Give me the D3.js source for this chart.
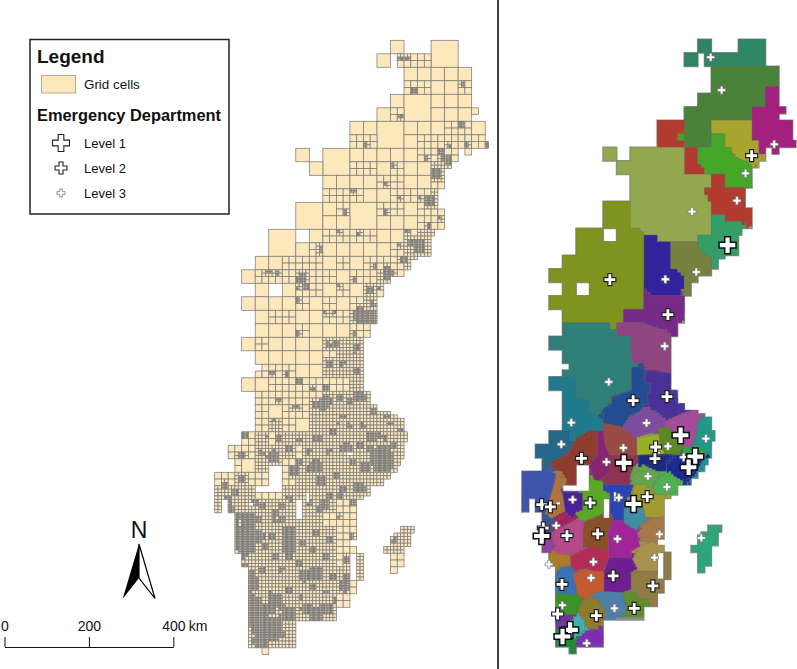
<!DOCTYPE html>
<html>
<head>
<meta charset="utf-8">
<script src="https://cdn.jsdelivr.net/npm/d3@7/dist/d3.min.js"></script>
<style>
html, body { margin: 0; padding: 0; background: #fff; }
svg { display: block; }
text { font-family: "Liberation Sans", Arial, sans-serif; fill: #111; }
</style>
</head>
<body>
<div id="map"></div>
<script>
// grid cells, one string per row, first char is column -2
// . none, 0 whole, 1 split in 4, 2 split in 16, 3 split in 64, B 2x2 block, x covered by block
// l r t b v part of a cell, L R same with finer split
const gridRows = [
  ".............0..Bx...",
  "............0r11xx...",
  "..............00000..",
  "..............11001..",
  ".............0Bx000..",
  "............01xx000t.",
  "..........00Bx000100.",
  "..........11xx011111L",
  "......0.Bx00000111r..",
  ".......0xx1101002L...",
  "........000001001....",
  "........111001112....",
  "......Bx01Bx01001....",
  "......xx00xx00001....",
  "....Bx.0110100122....",
  "....xx0100000122.....",
  "...001110101112......",
  "..011121101121.......",
  "...0.01101021........",
  "..0000101002.........",
  "...011001113.........",
  "...00010001l.........",
  "..010000122..........",
  "...00000122..........",
  "...11000222..........",
  "..001111012..........",
  "...11111222l.........",
  "...1001222222L.......",
  "...12102222222.......",
  "..121222222222L......",
  ".0122212222232.......",
  ".r022122222232.......",
  "1011112222222........",
  "21211222222L.........",
  "L222222221l..........",
  ".R32222211l..........",
  ".R32232121l..22......",
  ".R32232221l.R2L......",
  "..22222221R..1.......",
  "..R2222322R..t.......",
  "..R2222222l..........",
  "..R2322221...........",
  "..R323232............",
  "..R232...............",
  "..R322...............",
  "...v................."
];

// lakes and gaps in the grid, col0 row0 col1 row1
const gridHoles = [
  [2, 31.55, 3.2, 33], [0.9, 33, 3.1, 33.45], [4.1, 34.1, 4.5, 35.4], [4.65, 33.5, 5, 34.2],
  [7.8, 30.45, 8.25, 30.75], [8.05, 38, 8.5, 39.7], [8, 37, 8.6, 37.45], [0.5, 34.3, 0.85, 34.6],
  [1, 24, 1.5, 24.5], [17.5, 5, 18, 5.5], [18, 7, 18.5, 7.5], [18.25, 7.5, 18.5, 8], [16.5, 8.5, 17, 9],
  [15, 9.5, 15.5, 10], [14.5, 11, 15, 12.5], [14.25, 14, 15, 14.5], [14, 14.5, 15, 15], [12.5, 16.25, 13, 17],
  [11.75, 17, 12, 17.5], [11, 17.5, 12, 18], [10.5, 18, 11, 19], [10, 27, 11, 27.4], [11, 27, 11.6, 27.7],
  [12.25, 29, 12.5, 29.75], [12, 29.75, 12.5, 30], [11.75, 31, 12, 32], [11.5, 31.5, 12, 32], [10.6, 32.6, 11, 33],
  [9, 33.75, 9.5, 34], [12.75, 36, 13, 36.5], [12.5, 36.5, 13, 37], [11, 36, 11.75, 36.5], [11, 36.5, 11.25, 36.75],
  [10.5, 37, 11, 37.4], [12, 37.5, 12.5, 38], [11.5, 39, 12, 39.5]
];

// places where the cells get very small: col, row, radius
const clusters = [
  [11.8,1.4,.12],[12.2,1.4,.12],[12.73,3.67,.17],[16.4,3.18,.12],[11.75,5.64,.14],[16.26,6.2,.12],[17.17,5.84,.12],
  [9.11,7.8,.14],[15.4,7.86,.12],[16.6,7.73,.14],[18.1,7.73,.1],[14.66,8.23,.2],[15.2,8.8,.28],[14.4,9.95,.3],
  [13.67,8.8,.12],[11.13,9.29,.14],[10.6,10.6,.14],[8.2,11.1,.14],[11.58,11.63,.12],[13.92,11.92,.32],[13.13,11.63,.12],
  [7.64,12.78,.14],[10.6,12.73,.14],[14.65,13.15,.12],[13.92,13.77,.12],[7.14,14.14,.12],[8.62,14.38,.12],[12.2,14.14,.14],
  [13.18,15.25,.32],[11.58,15.12,.12],[12.44,15.05,.14],[5.86,15.5,.12],[11.95,16.28,.12],[9.85,16.8,.14],[10.84,17.27,.3],
  [2.04,17.1,.12],[2.66,17.3,.1],[4.43,17.7,.26],[4.8,18.2,.16],[4.14,18.33,.12],[4.14,19.3,.12],[7.14,18.15,.12],
  [8.37,17.83,.14],[9.43,18.57,.24],[10.1,18.33,.12],[9.68,19.58,.14],[6.16,20.1,.12],[6.9,20.1,.12],[8.74,20.4,.42],
  [8.37,21.77,.14],[4.11,21.77,.14],[7.02,22.5,.14],[6.4,22.5,.14],[8.5,22.75,.16],[6.77,22.6,.14],[8.37,22.95,.16],
  [7.39,23.94,.2],[8.5,24.43,.18],[6.53,24.06,.16],[3.37,24.67,.14],[2.2,24.67,.12],[4.26,25.3,.18],[2.83,26.6,.14],
  [5.17,25.86,.18],[6.23,26.77,.3],[5.9,27.26,.22],[3.94,27.14,.16],[8,26.65,.24],[8.74,26.4,.3],[7.5,27.88,.18],
  [7.14,28.37,.16],[2.34,28.12,.14],[1.85,29.35,.14],[.25,29.23,.16],[2.34,30.83,.34],[0,30.83,.2],[4.3,29.6,.16],
  [4.2,31.2,.22],[5.5,31.52,.36],[5.05,31.7,.24],[7.76,30.2,.3],[8.74,30.1,.2],[9.68,29.35,.34],[10.84,27.88,.16],
  [11.7,28.86,.16],[10.34,30.95,.7],[10.71,31.3,.42],[9.98,30.83,.3],[10.2,31.6,.26],[10.96,30.7,.22],[8.74,33.17,.3],
  [7.27,33.66,.24],[6.16,34.4,.26],[5.05,34.28,.22],[3.57,36.5,.34],[3.47,36.87,.3],[1.23,36.74,.36],[1.6,34.5,.22],
  [-.49,36.74,.62],[-.62,36.37,.42],[-.37,37.24,.36],[-.86,34.77,.28],[-1.1,34.03,.22],[.86,37.24,.2],[2.59,38.2,.24],
  [5.3,37.73,.2],[4.68,39.7,.3],[7.7,38.47,.18],[7.64,40.44,.32],[5.54,39.45,.16],[.86,40.3,.34],[.12,38.96,.22],
  [3.57,40.7,.2],[2.1,40.93,.16],[6.9,41.42,.16],[6.28,42.16,.3],[4.8,42.16,.3],[3.32,42.65,.34],[.62,42.53,.4],
  [1.35,43.64,.42],[1.6,44,.5],[2.6,43.1,.26],[11.33,37.1,.2],[8.13,36.74,.18],[7.14,35.39,.14],[8.25,34.28,.14],
  [1.2,41.6,.3],[1.6,42.2,.3],[1.9,43,.26],[4.4,41.2,.16],[3,34.5,.18],[2.4,35.6,.18],[3.3,37.7,.18],[6.5,37,.14],
  [.6,41.5,.3],[1,42,.35],[1.4,42.7,.35],[1,43.2,.35],[1.8,43.4,.3],[2.2,44,.3],[1.2,44.5,.3],[2.6,44.3,.2],[3,43.9,.2],
  [2.2,42.2,.22],[3,41.9,.2],[3.7,42.4,.22],[5.4,42.3,.25],[5.9,42,.2],[.4,40.8,.25],[.6,39.6,.25],[-.1,38.2,.25],[.2,37.8,.3],
  [-.6,35.5,.3],[-.9,35.9,.3],[-.2,35.2,.22],[.5,35.9,.2],[1.2,35.4,.22],[.4,36.6,.25],[1.7,37.5,.2],[2.2,36.7,.2],[3.1,35.5,.18],
  [2.5,34.9,.2],[.9,34.2,.22],[3.6,33.9,.2],[5.7,34.8,.18],[6.6,33.8,.2],[7.4,33.2,.2],[5.5,36.6,.2],[6.2,38.2,.16],[4.6,37.2,.2],
  [3.5,38.2,.18],[2.9,39.2,.18],[4.2,38.8,.2],[6.8,39.7,.18],[1.6,39.3,.2],[2.3,41.2,.18],[5.2,40.6,.22],[6.2,40.9,.16],[7.7,39.7,.22],
  [6.7,28.9,.2],[5.6,29.5,.25],[6.4,30.4,.22],[4.9,30.4,.2],[3.4,30.2,.2],[2.8,29.6,.2],[1.4,30.6,.2],[3.8,31.9,.25],[5.9,32.6,.25],
  [7,32.2,.22],[8.3,31.3,.22],[9.2,31.6,.25],[9.6,30.2,.22],[8.9,28.6,.2],[7.9,28.6,.2],[10.6,29.4,.18],[11.3,29.9,.2],[11,28.4,.16],
  [9.8,27.6,.2],[7.3,26.4,.22],[5.5,26.9,.2],[6.3,25.7,.16],[-1.3,33,.2],[-.4,33.5,.22],[0,32.5,.16]
];

const regionColors = [
  "#2f8663", "#4a8239", "#a3207f", "#a7a52d", "#b23a2f", "#b23a2f", "#45a628", "#93a74f",
  "#b23a2f", "#339e66", "#32239b", "#76813f", "#7f941f", "#752a87", "#8e4580", "#2e7f78",
  "#1f7a8c", "#24678a", "#8f3b2d", "#88256f", "#9a4a45", "#8f3352", "#234d90", "#4a3196",
  "#7e4b9f", "#a54b9a", "#1e9a86", "#199a9a", "#99b026", "#5a8a21", "#2ea24e", "#1d2b88",
  "#1b2a90", "#64a54c", "#4fb251", "#3d55ad", "#b0733a", "#4b2199", "#5aa824", "#2b44b5",
  "#a19a2e", "#3e8da3", "#a5794c", "#8a4e2a", "#a1249b", "#a8904e", "#8f7b43", "#6f1e8f",
  "#b22c55", "#c45a30", "#3a71b2", "#a97c29", "#b8498a", "#a81d5a", "#3a5296", "#963ba5",
  "#3a9228", "#8d7c2d", "#4d7fa9", "#5e8f2c", "#7a2eb0", "#3fb0aa", "#70329e", "#1e8a3a",
  "#2fa67a"
];

// outline of each region in grid units, "col,row col,row ..."
const regionRings = [
  ["11,0 12,0 12,1 14,1 14,0 16,0 16,2 11.5,2 11.5,1 11,1", "10,1 11,1 11,2 10,2"],
  ["12,2 17,2 17,3.5 16,3.5 16,5 15,5 15,6 12,6 12,8 10,8 10,5 11,5 11,4 12,4"],
  ["16,3.5 17,3.5 17,5 17.5,5 17.5,5.5 17.25,5.5 17.25,6 18,6 18,7.5 18.25,7.5 18.25,8 17,8 17,8.5 16.5,8.5 16.5,8 16,8 16,8.5 15.5,8.5 15.5,7.5 15,7.5 15,5 16,5"],
  ["12,6 15,6 15,7.5 15.5,7.5 15.5,8.5 15.75,8.5 15.75,9 15.5,9.25 15.25,9.5 14.75,9.25 14.5,9 14,8.75 13.5,8.25 13,8 13,7 12,7"],
  ["8,6 10,6 10,8 8,8"],
  ["10,8 11,8 11,9 11.25,9 11.25,9.5 11.5,9.5 11.5,10 10,10"],
  ["12,7 13,7 13,8 13.5,8 13.5,8.5 14,9 14.5,9 15,9.5 15,11 13,11 13,10 11.5,10 11.5,9.5 11,9 11,8 12,8", "9.5,7 10,7 10,7.5 9.5,7.5"],
  ["6,8 10,8 10,10 12,10 12,11 11.5,11 11.5,11.5 11.75,11.5 11.75,12 12,12 12,14.5 11,14.5 11,15 8,15 8,14.5 7,14.5 6.5,14 6,14 6,10 5,10 5,9 6,9", "4,8 5,8 5,9 4,9"],
  ["12,10 13,10 13,11 14.5,11 14.5,12.5 15,12.5 15,13.5 14.5,13.5 14.5,13.75 14.25,13.75 14.25,13.5 13,13.5 13,13 12,13 12,12 11.75,12 11.75,11.5 11.5,11.5 11.5,11 12,11"],
  ["12,13 13,13 13,13.5 14.25,13.5 14.25,14 14,14.5 14,16 13,16.25 12.5,16.25 12.5,17 12,17 12,16.25 11.5,16 11,15.5 11,14.5 12,14.5"],
  ["7,14.5 8,14.5 8,15 9,15 9,17 9.5,17 10,17.5 10,18.5 9.75,18.5 9.75,19 7.5,19 7,18.5 7,19 6.5,19 6.5,18.5 7,18.5"],
  ["9,15 11,15 11,15.5 11.5,16 12,16.25 12,17 11.75,17.5 11,17.5 11,18 10.5,18 10.5,19 9.75,19 10,18.5 10,17.5 9.5,17 9,17"],
  ["4,12 6,12 6,14 6.5,14 7,14.5 7,20 5.5,20 5.5,21 5,21 5,21.5 4.5,21.5 4.5,21 1,21 1,20 0,20 0,19 1,19 1,18 0,18 0,17 1,17 1,16 2,16 2,14 4,14", "4,14 5,14 5,15 4,15", "2,18 3,18 3,19 2,19"],
  ["7,18.5 7.5,19 9.75,19 9.75,19.5 10,19.75 10,20.5 9.5,20.5 9.5,22 9,22 8.5,21.5 7,21 5.5,21 5.5,20 7,20"],
  ["5,21 7,21 7,21.5 8.5,21.5 9,22 9,24.75 8,24.5 7.2,24.5 7,24 6.1,24 6,22 5,22"],
  ["1,21 4.5,21 4.5,21.5 5,21.5 5,22 6,22 6.1,24 6.6,24 6.6,24.25 6.1,24.4 6.1,26 4.6,26.5 4.6,27 4.1,27.5 3.6,28 3,27.5 3,26.7 2,26.5 2,25 1,25 1,24.5 1.5,24.5 1.5,24 1,24 1,23 0,23 0,22 1,22"],
  ["0,25 2,25 2,26.5 3,26.7 3,27.5 3.6,28 4,28.3 4,29 3,29 2.5,29.3 2,29.7 1.5,30 1.5,29 1,29 1,26 0,26"],
  ["0,29 1.5,29 1.5,29.7 2,29.7 1.7,30.2 1.3,30.8 .2,31.3 0,32 -.4,32 -.4,31 -1,31 -1,30 0,30"],
  ["3,29 3.5,29 3.6,30.7 3,31.5 2,31.5 2,33 1.6,33 1,32 .1,31.6 1.3,30.8 2,29.7 3,29.4"],
  ["3.6,29 4.1,29 4.2,30.2 4.6,30.8 5,30.8 5,31.5 4.6,32 4.5,32.5 3.8,32.7 3.4,32.9 3.3,32.4 3,31.5 3.2,31.2 3.6,30.7"],
  ["4,28.4 5.5,28.7 5.5,28.9 6.5,29.5 6.55,30.8 4.5,30.8 4.1,29.7"],
  ["4.5,30.8 6.6,30.8 6.6,31.4 6.25,31.8 6,32.4 6,33 3.9,33 3.9,32.5 4.5,32"],
  ["6.1,24.25 6.75,24.25 7.1,24.55 7.1,25.4 7.5,25.5 7.5,26 7.3,26.2 7.35,27 7,27.2 6.75,27.6 6,28 5.5,28.7 4,28.4 4,27.3 4.65,27 4.65,26.5 6.1,26"],
  ["7.1,24.55 9.05,24.75 9,26 9.2,26.5 10,26.5 10,27 10.6,27 10.6,27.5 10,27.7 8.6,28.3 7.7,27.5 7.35,27 7.3,26.2 7.5,26 7.5,25.5 7.1,25.4"],
  ["7.7,27.5 8.6,28.2 8.5,29.2 7.6,29.2 6.5,29.5 5.5,28.7 6.75,27.6"],
  ["8.6,28.3 9.95,28 10.8,27.5 11.5,27.8 11,28.4 10.9,29.4 10.6,30.2 10,30.2 9,28.8 8.5,29"],
  ["11.55,27.8 12.05,28.2 12.3,29 12.2,29.7 12,30.4 11.55,31 11.4,30.2 10.6,30.2 10.9,29.4 11,28.4"],
  ["11.4,31 11.85,31.1 11.8,31.5 11.3,32 10.9,32.5 10.3,33 10.2,32.8 10.8,32.2 11.1,31.6"],
  ["6.5,29.5 7.6,29.3 8.2,29.2 8.2,29.8 8.6,30.7 6.5,30.8"],
  ["8.1,28.8 8.85,28.8 9.1,29.4 9.95,30.2 9.7,30.8 8.6,30.7 8.2,29.8"],
  ["9.95,30.2 11.4,30.2 11.55,31 10.2,30.7 9.7,30.8"],
  ["6.6,30.8 9.35,30.8 8.7,31.4 8.7,32 7.85,32 6.6,31.6"],
  ["9.35,30.8 9.7,30.8 10.2,30.7 11.55,31 10.95,31.8 10.15,32.8 9.45,32.4 8.7,32 8.7,31.4"],
  ["6.85,31.5 7.85,32 8.2,32.3 7.7,33 7.6,33.5 6.85,33.25 6.1,32.9 6.1,32.3"],
  ["8.2,32.3 8.85,32 9.55,32.9 9.55,33.5 8.7,33.75 7.85,33.75 7.7,33"],
  ["-.9,31.5 0,32 .5,32.3 .2,34 0,35 -.3,35.2 -1.3,35.2 -1.5,34.9 -1.9,34.4 -1.95,33 -1.95,32 -1,32"],
  [".55,32.3 1.05,32.5 .8,33.2 1,33.8 1.2,35 .3,35.5 -.3,35.2 0,34.1"],
  ["1.05,33.6 2.5,33.6 2.5,34.9 2,35.1 1.8,35.5 1.2,34.9"],
  ["3.15,32.6 4,32.8 4,33.3 4.5,33.6 4.5,34.2 4.1,34.7 4,35.2 3.3,35.5 2.5,35.7 2,35.5 2.5,34.9 2.5,33.6 2.6,33"],
  ["4,33 6.3,33 6,33.9 5.55,34.4 5.55,35.6 5,35.7 4.5,35.2 4.6,34.1 4.5,33.6 4,33.3"],
  ["6.3,33 7,33 7.7,33.7 8.6,33.75 8.6,35.5 8,35.4 7.1,35.4 7,34.9 6.25,34.4 6.05,33.9"],
  ["5.55,34.4 6.25,34.4 7,34.9 7.1,35.4 7.5,35.5 6.85,36 6.5,36.5 6,36.2 5.5,35.85 5.55,35.6"],
  ["7.5,35.5 8.6,35.3 8.6,37 8.1,37 8.1,37.45 7.6,37.2 6.85,37.2 6.5,36.5 6.85,36"],
  ["2.6,35.7 3.3,35.5 4,35.2 4.75,35.2 4.65,35.7 4.4,36.5 4.4,38 3.65,37.7 2.9,37.6 2.5,37.7 2.5,36.6"],
  ["4.75,35.6 5.5,35.85 6.05,36.2 6.5,36.5 6.7,37.6 6.1,38 6.1,38.4 4.4,38.4 4.4,36.5"],
  ["6.75,37.45 7.6,37.2 8.1,37.45 8.6,37.5 8.6,38 8.05,38 8.05,39.4 6.05,39.4 6.5,39.2 6.1,38.4"],
  ["6.05,39.4 8.05,39.4 8.05,39.5 8.5,39.7 8.5,38 9.1,38 9.1,40 8.6,40 8.6,41 8.05,41 8.05,42 7.5,42 7.35,41.5 6.5,41.4 6.05,40.8"],
  ["4.4,38.4 6.05,38.4 6.5,39.3 6.05,39.55 6.05,40.8 5.4,41 4.05,40.9 4.05,39.3"],
  ["1.55,38.2 2.5,37.8 2.9,37.6 3.65,37.7 4.4,38 4.4,38.4 4.05,39.3 4.05,39.4 3.3,39.4 2.85,39.2 1.9,39.4 1.6,39"],
  ["1.8,39.5 2.85,39.3 3.3,39.4 4.05,39.4 4.05,40.9 3.5,41 2.65,41.6 2.2,41.3 2,40.5 1.8,40"],
  [".3,39.7 .8,39.1 1.6,39 1.8,39.5 1.8,40 2,40.6 2,41.2 1.3,41.15 .55,41 .55,40.3"],
  ["-.4,38.05 1.55,38.2 1.6,39 .8,39.1 .3,39.7 0,39 -.4,38.4"],
  [".2,36.5 1.8,35.6 2.5,35.7 2.5,37.7 1.55,38.2 .8,37.6 .3,37.3 .3,37"],
  [".05,35.85 1.2,35.2 1.8,35.6 .2,36.5"],
  ["-1.3,35.2 -.3,35.2 .2,35.7 .2,36.6 -.4,36.3 -1.4,36.2"],
  ["-.65,37.3 .2,37 .3,37.3 -.3,38.05 -.65,37.9"],
  [".55,41 2,41.2 2.5,41.5 2.2,42.1 2.2,42.6 1.45,42.6 .8,42.7 .3,42 .08,41.9 0,41.5 .5,41.5"],
  ["2.5,41.5 3.5,41.3 4,42 4.4,42.6 3.9,43 3.65,43.7 3,43.7 2.5,43.1 2.2,42.6 2.2,42.1"],
  ["3.5,41.3 4.25,40.9 5.5,41 5.7,41.8 5.7,42.5 4.75,42.5 4.65,42.9 4.4,42.6 4,42"],
  ["5.5,41 6.5,40.9 6.5,41.4 7.35,41.5 7.35,42 7,42 7,42.5 5.7,42.5 5.7,41.8"],
  ["1.9,44.9 2.05,44.4 2.65,43.8 3.65,43.8 4.05,44.25 4.05,44.8 3,45"],
  [".8,43.75 2.05,42.5 2.6,43.2 2.65,43.8 2,44.4 1.55,44.4"],
  [".3,42.8 1.45,42.6 1.7,42.8 .95,43.4 .6,43.1"],
  [".55,43.95 1.55,44.4 2,44.4 1.9,44.9 1.95,45.2 1.55,45.2 1.55,45 .55,44.9"],
  ["11.8,36.05 12.7,36.05 12.8,36.35 12.55,36.5 12.55,37 12.05,37.45 12.05,39 11.55,39 11.55,39.5 11.05,39.5 11.05,38 10.8,38 10.8,37.5 11.3,36.85 11.8,36.5"]
];

// emergency departments, col,row
const level1Sites = [[13.2,15.25],[9.73,29.33],[5.53,31.38],[10.81,30.91],[10.32,31.7],[6.25,34.42],[-.54,36.79],[1.56,43.75],[1,44.24]];
const level2Sites = [
  [14.98,8.62],[4.5,17.8],[8.79,20.4],[6.22,26.76],[8.72,26.47],[7.88,30.2],[2.4,31.04],[7.83,31.06],[7.26,33.87],
  [3.04,34.34],[-.54,34.47],[.1,34.64],[-.42,36.2],[1.33,36.76],[3.6,36.64],[4.74,39.75],[7.68,40.49],[.96,40.37],
  [.64,42.57],[6.3,42.15],[3.5,42.69]
];
const level3Sites = [
  [11.95,1.33],[12.76,3.77],[16.65,7.78],[14.53,9.93],[13.89,11.95],[10.57,12.76],[8.6,17.78],[10.89,17.24],[8.55,22.73],
  [4.42,25.38],[7.21,28.42],[1.65,28.39],[11.6,29.58],[.91,30],[5.5,30.27],[8.79,30.15],[4.25,31.31],[9.95,30.96],
  [7.31,32.37],[8.72,33.16],[5.16,33.95],[1.75,34.1],[.54,36.02],[5.06,37.01],[8.17,36.66],[11.26,36.94],[7.8,38.39],
  [0,38.89],[3.28,38.71],[3.11,39.9],[.99,41.92],[4.84,42.15],[2.79,44.74]
];

const legendLevels = ["Level 1", "Level 2", "Level 3"];
const scaleTicks = [0, 200, 400];

const width = 797, height = 669;
const svg = d3.select("#map").append("svg").attr("width", width).attr("height", height);

var x = d3.scaleLinear().domain([0, 18]).range([241.7, 485.2]);
var y = d3.scaleLinear().domain([0, 45]).range([40.3, 647.8]);

const cellFill = "#fde8bc", cellLine = "#7c7c7c";
const partRule = {
  l: (u, v) => u < .5, r: (u, v) => u >= .5, t: (u, v) => v < .5, b: (u, v) => v >= .5,
  v: (u, v) => u >= .5 && v < .5, L: (u, v) => u < .5, R: (u, v) => u >= .5
};

function touchesCluster(cx, cy, size) {
  return clusters.some(c => {
    var r = c[2] < .25 ? c[2] * .6 : c[2]; // small towns stay small
    var dx = Math.max(cx - c[0], 0, c[0] - cx - size);
    var dy = Math.max(cy - c[1], 0, c[1] - cy - size);
    return dx * dx + dy * dy < r * r;
  });
}

var leaves = [];
function split(cx, cy, size) {
  if (size > 0.13 && touchesCluster(cx, cy, size)) {
    var h = size / 2;
    [[0, 0], [h, 0], [0, h], [h, h]].forEach(o => split(cx + o[0], cy + o[1], h));
  } else {
    var mx = cx + size / 2, my = cy + size / 2;
    var inHole = gridHoles.some(r => mx > r[0] && mx < r[2] && my > r[1] && my < r[3]);
    if (!inHole) leaves.push([cx, cy, size]);
  }
}

gridRows.forEach((row, j) => {
  row.split("").forEach((ch, i) => {
    var k = i - 2;
    if (ch == "." || ch == "x") return;
    if (ch == "B") { split(k, j, 2); return; }
    var level = +ch;
    if (isNaN(level)) level = (ch == "L" || ch == "R") ? 2 : 1;
    var n = Math.pow(2, level);
    d3.range(n).forEach(a => d3.range(n).forEach(b => {
      var rule = partRule[ch];
      if (!rule || rule((a + .5) / n, (b + .5) / n)) split(k + a / n, j + b / n, 1 / n);
    }));
  });
});

// left map
svg.append("g").selectAll("rect").data(leaves).enter().append("rect")
  .attr("x", d => x(d[0])).attr("y", d => y(d[1]))
  .attr("width", d => x(d[0] + d[2]) - x(d[0])).attr("height", d => y(d[1] + d[2]) - y(d[1]))
  .attr("fill", cellFill).attr("stroke", cellLine).attr("stroke-width", .75);

// right map uses the same grid as its shape, regions are cut to it
var gridShape = leaves.map(d => `M${x(d[0])},${y(d[1])}H${x(d[0] + d[2])}V${y(d[1] + d[2])}H${x(d[0])}Z`).join("");
svg.append("defs").append("clipPath").attr("id", "gridclip").append("path").attr("d", gridShape);

var line = d3.line().x(d => x(d[0])).y(d => y(d[1]));

// slanted edges become small stairs like the raster they come from
function stairs(pts) {
  var out = [];
  pts.forEach((p, i) => {
    var q = pts[(i + 1) % pts.length];
    var dx = q[0] - p[0], dy = q[1] - p[1];
    out.push(p);
    if (dx && dy) {
      var n = Math.ceil(Math.max(Math.abs(dx), Math.abs(dy)) / .25);
      d3.range(1, n + 1).forEach(s => {
        out.push([p[0] + dx * s / n, p[1] + dy * (s - 1) / n]);
        out.push([p[0] + dx * s / n, p[1] + dy * s / n]);
      });
    }
  });
  return out;
}
function ringPath(rings) {
  return rings.map(r => line(stairs(r.split(" ").map(p => p.split(",").map(Number)))) + "Z").join("");
}

var rightMap = svg.append("g").attr("transform", "translate(307.3,-1)");
rightMap.append("path").attr("d", gridShape).attr("fill", "#8d8d8d").attr("stroke", "#8d8d8d").attr("stroke-width", 1.7);
var regionLayer = rightMap.append("g").attr("clip-path", "url(#gridclip)");
// thick pass closes the small gaps between my outlines
regionLayer.append("g").selectAll("path").data(regionRings).enter().append("path")
  .attr("d", ringPath)
  .attr("fill", (d, i) => regionColors[i])
  .attr("stroke", (d, i) => regionColors[i]).attr("stroke-width", 9).attr("stroke-linejoin", "round");
regionLayer.append("g").selectAll("path").data(regionRings).enter().append("path")
  .attr("d", ringPath)
  .attr("fill", (d, i) => regionColors[i])
  .attr("fill-rule", "evenodd")
  .attr("stroke", "#6e6e6e").attr("stroke-width", .6).attr("stroke-opacity", .55);

var cross = d3.symbol().type(d3.symbolCross);
const levelStyle = [
  { sites: level1Sites, size: 160, stroke: "#111", sw: 1.5 },
  { sites: level2Sites, size: 80, stroke: "#222", sw: 1.2 },
  { sites: level3Sites, size: 36, stroke: "#777", sw: .7 }
];
levelStyle.slice().reverse().forEach(s => {
  rightMap.append("g").selectAll("path").data(s.sites).enter().append("path")
    .attr("d", cross.size(s.size)())
    .attr("transform", d => `translate(${x(d[0])},${y(d[1])})`)
    .attr("fill", "#fff").attr("stroke", s.stroke).attr("stroke-width", s.sw);
});

// divider
svg.append("line").attr("x1", 498).attr("x2", 498).attr("y1", 0).attr("y2", height)
  .attr("stroke", "#111").attr("stroke-width", 1.6);

// legend
var legend = svg.append("g");
legend.append("rect").attr("x", 30).attr("y", 39.5).attr("width", 199).attr("height", 174.5)
  .attr("fill", "#fff").attr("stroke", "#222").attr("stroke-width", 1.5);
legend.append("text").attr("x", 37).attr("y", 63).attr("font-size", 19).attr("font-weight", "bold").text("Legend");
legend.append("rect").attr("x", 41.5).attr("y", 75.5).attr("width", 34).attr("height", 17.5)
  .attr("fill", cellFill).attr("stroke", "#b5aa94").attr("stroke-width", 1);
legend.append("text").attr("x", 84).attr("y", 89).attr("font-size", 13.4).text("Grid cells");
legend.append("text").attr("x", 37).attr("y", 121).attr("font-size", 16.4).attr("font-weight", "bold").text("Emergency Department");
legendLevels.forEach((name, i) => {
  var cy = 143 + 25 * i;
  legend.append("path").attr("d", cross.size(levelStyle[i].size)())
    .attr("transform", `translate(61,${cy})`)
    .attr("fill", "#fff").attr("stroke", i == 2 ? "#777" : "#222").attr("stroke-width", i == 2 ? .8 : 1.1);
  legend.append("text").attr("x", 84).attr("y", cy + 5).attr("font-size", 13).text(name);
});

// north arrow
var north = svg.append("g").attr("transform", "translate(139,0)");
north.append("text").attr("x", 0).attr("y", 538).attr("text-anchor", "middle").attr("font-size", 23).text("N");
north.append("path").attr("d", d3.line()([[0, 544], [16, 598.5], [0, 578]]) + "Z")
  .attr("fill", "#fff").attr("stroke", "#000").attr("stroke-width", 1.2).attr("stroke-linejoin", "miter");
north.append("path").attr("d", d3.line()([[0, 544], [-16.3, 598.7], [0, 578]]) + "Z").attr("fill", "#000");

// scale bar
var km = d3.scaleLinear().domain([0, 400]).range([4.5, 173.3]);
var scaleBar = svg.append("g").attr("transform", "translate(0,647)")
  .call(d3.axisTop(km).tickValues(scaleTicks).tickSize(10).tickSizeOuter(0).tickPadding(6).tickFormat(d3.format("d")));
scaleBar.selectAll("text").attr("font-size", 14).style("font-family", '"Liberation Sans", Arial, sans-serif').attr("fill", "#111");
scaleBar.selectAll("line").attr("stroke", "#111").attr("stroke-width", 1);
scaleBar.select(".domain").attr("stroke", "#111").attr("stroke-width", 1);
svg.append("text").attr("x", km(400) + 15.5).attr("y", 631).attr("font-size", 14).text("km");
</script>
</body>
</html>
